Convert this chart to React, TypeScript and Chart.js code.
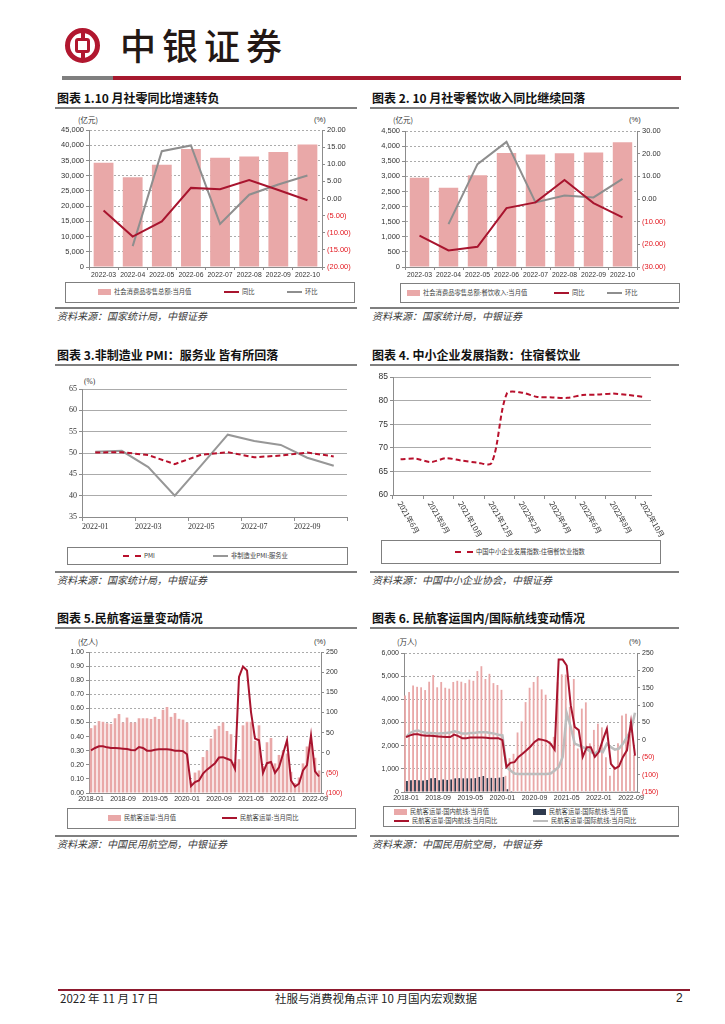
import React, { useEffect, useRef } from 'react';
import { Chart, registerables } from 'chart.js';

Chart.register(...registerables);

// ================= DATA =================
// Chart 1: retail sales
const c1Labels = ['2022-03', '2022-04', '2022-05', '2022-06', '2022-07', '2022-08', '2022-09', '2022-10'];
const c1Retail = [34233, 29483, 33547, 38742, 35870, 36258, 37745, 40271];
const c1Yoy = [-3.5, -11.1, -6.7, 3.1, 2.7, 5.4, 2.5, -0.5];
const c1Mom = [null, -13.9, 13.8, 15.5, -7.4, 1.1, 4.1, 6.7];

// Chart 2: catering revenue
const c2Labels = ['2022-03', '2022-04', '2022-05', '2022-06', '2022-07', '2022-08', '2022-09', '2022-10'];
const c2Catering = [2950, 2620, 3035, 3775, 3720, 3760, 3785, 4125];
const c2Yoy = [-16.2, -22.7, -21.1, -4.0, -1.5, 8.4, -1.8, -8.1];
const c2Mom = [null, -11.1, 15.4, 25.2, -1.5, 1.5, 0.7, 8.9];

// Chart 3: PMI
const c3Labels = ['2022-01', '2022-02', '2022-03', '2022-04', '2022-05', '2022-06', '2022-07', '2022-08', '2022-09', '2022-10'];
const c3Pmi = [50.1, 50.2, 49.5, 47.4, 49.6, 50.2, 49.0, 49.4, 50.1, 49.2];
const c3Services = [50.3, 50.5, 46.7, 40.0, 47.1, 54.3, 52.8, 51.9, 48.9, 47.0];

// Chart 4: SME development index, hospitality & catering
const c4Labels = ['2021年6月', '2021年7月', '2021年8月', '2021年9月', '2021年10月', '2021年11月', '2021年12月',
  '2022年1月', '2022年2月', '2022年3月', '2022年4月', '2022年5月', '2022年6月', '2022年7月', '2022年8月', '2022年9月', '2022年10月'];
const c4Index = [67.6, 67.7, 67.0, 67.8, 67.3, 66.9, 66.8, 81.5, 81.7, 80.8, 80.7, 80.6, 81.2, 81.3, 81.5, 81.2, 80.8];

// Chart 5 & 6: civil aviation (monthly)
const aviationMonths = [
  '2018-01', '2018-02', '2018-03', '2018-04', '2018-05', '2018-06', '2018-07', '2018-08', '2018-09', '2018-10', '2018-11', '2018-12',
  '2019-01', '2019-02', '2019-03', '2019-04', '2019-05', '2019-06', '2019-07', '2019-08', '2019-09', '2019-10', '2019-11', '2019-12',
  '2020-01', '2020-02', '2020-03', '2020-04', '2020-05', '2020-06', '2020-07', '2020-08', '2020-09', '2020-10', '2020-11', '2020-12',
  '2021-01', '2021-02', '2021-03', '2021-04', '2021-05', '2021-06', '2021-07', '2021-08', '2021-09', '2021-10', '2021-11', '2021-12',
  '2022-01', '2022-02', '2022-03', '2022-04', '2022-05', '2022-06', '2022-07', '2022-08', '2022-09', '2022-10',
];
const c5Passengers = [
  0.46, 0.48, 0.51, 0.505, 0.495, 0.49, 0.53, 0.56, 0.50, 0.535, 0.50, 0.50,
  0.53, 0.53, 0.53, 0.525, 0.54, 0.525, 0.59, 0.61, 0.54, 0.567, 0.526, 0.52,
  0.50, 0.08, 0.145, 0.16, 0.255, 0.30, 0.386, 0.452, 0.476, 0.50, 0.44, 0.417,
  0.22, 0.24, 0.48, 0.505, 0.505, 0.37, 0.48, 0.19, 0.36, 0.39, 0.21, 0.27,
  0.30, 0.28, 0.15, 0.07, 0.11, 0.21, 0.33, 0.34, 0.25, 0.16,
];
const c5Yoy = [
  5.9, 11.7, 15.8, 15.8, 13.3, 11.7, 11.7, 10.8, 10, 9, 6.7, 6,
  14, 11.7, 5, 5, 7.5, 8.4, 8.4, 8.4, 7.5, 5, 5, 4,
  -4, -83, -73, -69, -52, -42, -34, -26, -12, -11, -15, -19,
  -40, 188, 214, 204, 101, 35, 31, -50, -26, -23, -50, -36,
  -3, 31, -69, -84, -77, -44, -31, 43, -46, -59,
];
const c6Domestic = [
  4170, 4320, 4600, 4540, 4520, 4400, 4760, 5050, 4520, 4750, 4500, 4460,
  4750, 4800, 4760, 4700, 4850, 4800, 5220, 5430, 4880, 5100, 4700, 4620,
  4410, 700, 1460, 1650, 2570, 3050, 3880, 4500, 4750, 4980, 4430, 4200,
  2200, 2380, 4740, 5080, 5070, 3680, 4880, 1880, 3600, 3870, 2100, 2680,
  2950, 2790, 1500, 700, 1120, 2100, 3300, 3380, 2500, 1600,
];
const c6International = [
  480, 510, 520, 510, 500, 520, 590, 600, 510, 540, 520, 540,
  590, 600, 590, 590, 590, 600, 650, 690, 600, 610, 600, 620,
  650, 120, 40, 15, 15, 15, 15, 15, 15, 15, 15, 15,
  15, 15, 15, 15, 15, 15, 15, 15, 15, 15, 15, 15,
  15, 15, 15, 15, 15, 15, 15, 15, 15, 15,
];
const c6DomesticYoy = [
  8, 13, 16, 16, 13, 12, 12, 11, 10, 9, 8, 8,
  15, 11, 5, 5, 7, 7, 7, 7, 6, 5, 5, 5,
  -1, -78, -66, -64, -49, -40, -30, -19, -6, 2, 0, -3,
  -11, -28, 231, 231, 214, 100, 37, 28, -49, -21, -21, -49,
  -35, 0, 32, -69, -83, -76, -49, -30, 51, -45,
];
const c6InternationalYoy = [
  8, 20, 25, 27, 23, 20, 20, 19, 18, 19, 20, 21,
  25, 22, 18, 18, 20, 20, 22, 22, 22, 20, 18, 15,
  13, -78, -88, -97, -98, -98, -98, -98, -98, -98, -98, -98,
  -97, -88, -78, -49, 77, 37, -11, -16, -21, -26, -35, -40,
  -30, -35, -11, -21, -28, -25, -11, 8, 27, 78,
];

// ================= STYLE =================
const SANS = "'Liberation Sans', Arial, sans-serif";
const SERIF = "'Liberation Serif', 'Times New Roman', serif";
const CJK = "'Noto Sans CJK SC', 'Noto Sans', sans-serif";

const PINK = '#E9A8A8';
const RED = '#A8142E';
const RED2 = '#B8102C';
const GRAY = '#8E8E8E';
const LGRAY = '#BDBDBD';
const NAVY = '#2E3A4E';
const AXIS = '#8C8C8C';
const GRIDC = '#ABABAB';
const TXT = '#333333';
const NEG = '#E3161E';
const TRANSP = 'rgba(0,0,0,0)';

const negColor = (c: any) => (c.tick && c.tick.value < 0 ? NEG : TXT);
const pct2 = (v: any) => (v < 0 ? `(${(-v).toFixed(2)})` : Number(v).toFixed(2));
const pct0 = (v: any) => (v < 0 ? `(${-v})` : `${v}`);
const thousands = (v: any) => Number(v).toLocaleString('en-US');

function baseOptions(pad: any) {
  return {
    responsive: false,
    animation: false,
    events: [],
    layout: { padding: pad },
    plugins: { legend: { display: false }, tooltip: { enabled: false } },
  };
}

function yAxis(opts: any) {
  const { position, min, max, step, fmt, width, font, color, grid, dash, tick } = opts;
  return {
    position,
    min,
    max,
    ticks: { stepSize: step, callback: fmt, font, color: color || TXT, padding: 2 },
    grid: grid
      ? { display: true, color: GRIDC, tickColor: AXIS, tickLength: tick ?? 3, drawOnChartArea: true }
      : { display: true, drawOnChartArea: false, color: AXIS, tickLength: tick ?? 3 },
    border: { display: true, color: AXIS, width: 1, dash: dash || [] },
    afterFit: (s: any) => { s.width = width; },
  };
}

// ================= CONFIGS =================
function cfg1() {
  const yfont = { family: SANS, size: 7.5 };
  const xfont = { family: SANS, size: 6.8 };
  return {
    type: 'bar',
    data: {
      labels: c1Labels,
      datasets: [
        { type: 'line', data: c1Yoy, yAxisID: 'y1', borderColor: RED, borderWidth: 2, pointRadius: 0, order: 1 },
        { type: 'line', data: c1Mom, yAxisID: 'y1', borderColor: GRAY, borderWidth: 2, pointRadius: 0, order: 1 },
        { type: 'bar', data: c1Retail, yAxisID: 'y', backgroundColor: PINK, barPercentage: 0.68, categoryPercentage: 1, order: 2 },
      ],
    },
    options: {
      ...baseOptions({ top: 18, left: 0, right: 0, bottom: 0 }),
      scales: {
        x: {
          offset: true,
          grid: { display: true, drawOnChartArea: false, offset: true, tickLength: 3, color: AXIS },
          border: { color: AXIS },
          ticks: { autoSkip: false, maxRotation: 0, minRotation: 0, padding: 1, font: xfont, color: TXT },
          afterFit: (s: any) => { s.height = 15; },
        },
        y: yAxis({ position: 'left', min: 0, max: 45000, step: 5000, fmt: thousands, width: 34, font: yfont, grid: true, dash: [2, 2] }),
        y1: yAxis({ position: 'right', min: -20, max: 20, step: 5, fmt: pct2, width: 38, font: yfont, color: negColor }),
      },
    },
  };
}

function cfg2() {
  const yfont = { family: SANS, size: 7.5 };
  const xfont = { family: SANS, size: 6.8 };
  return {
    type: 'bar',
    data: {
      labels: c2Labels,
      datasets: [
        { type: 'line', data: c2Yoy, yAxisID: 'y1', borderColor: RED, borderWidth: 2, pointRadius: 0, order: 1 },
        { type: 'line', data: c2Mom, yAxisID: 'y1', borderColor: GRAY, borderWidth: 2, pointRadius: 0, order: 1 },
        { type: 'bar', data: c2Catering, yAxisID: 'y', backgroundColor: PINK, barPercentage: 0.67, categoryPercentage: 1, order: 2 },
      ],
    },
    options: {
      ...baseOptions({ top: 19, left: 0, right: 0, bottom: 0 }),
      scales: {
        x: {
          offset: true,
          grid: { display: true, drawOnChartArea: false, offset: true, tickLength: 3, color: AXIS },
          border: { color: AXIS },
          ticks: { autoSkip: false, maxRotation: 0, minRotation: 0, padding: 1, font: xfont, color: TXT },
          afterFit: (s: any) => { s.height = 15; },
        },
        y: yAxis({ position: 'left', min: 0, max: 4500, step: 500, fmt: thousands, width: 35, font: yfont, grid: true, dash: [2, 2] }),
        y1: yAxis({ position: 'right', min: -30, max: 30, step: 10, fmt: pct2, width: 45, font: yfont, color: negColor }),
      },
    },
  };
}

function cfg3() {
  const font = { family: SERIF, size: 8 };
  return {
    type: 'line',
    data: {
      labels: c3Labels,
      datasets: [
        { data: c3Pmi, borderColor: RED2, borderWidth: 2, borderDash: [5, 3], pointRadius: 0 },
        { data: c3Services, borderColor: '#979797', borderWidth: 2, pointRadius: 0 },
      ],
    },
    options: {
      ...baseOptions({ top: 11, left: 0, right: 8, bottom: 0 }),
      scales: {
        x: {
          offset: true,
          grid: {
            display: true, drawOnChartArea: false, offset: true, tickLength: 4,
            color: (c: any) => (c.index === undefined || c.index % 2 === 0 ? AXIS : TRANSP),
          },
          border: { color: AXIS },
          ticks: {
            autoSkip: false, maxRotation: 0, minRotation: 0, padding: 1, font, color: TXT,
            callback: (_v: any, i: number) => (i % 2 === 0 ? c3Labels[i] : ''),
          },
          afterFit: (s: any) => { s.height = 14; },
        },
        y: yAxis({ position: 'left', min: 35, max: 65, step: 5, fmt: (v: any) => `${v}`, width: 27, font, grid: true, tick: 3 }),
      },
    },
  };
}

const rotatedLabels = {
  id: 'rotatedLabels',
  afterDraw(chart: any) {
    const sx = chart.scales.x;
    const ctx = chart.ctx;
    ctx.save();
    ctx.font = `7.5px ${CJK}`;
    ctx.fillStyle = TXT;
    ctx.textAlign = 'left';
    ctx.textBaseline = 'middle';
    c4Labels.forEach((lab, i) => {
      if (i % 2 !== 0) return;
      const x = sx.getPixelForValue(i);
      ctx.save();
      ctx.translate(x - 1, sx.top + 7);
      ctx.rotate((60 * Math.PI) / 180);
      ctx.fillText(lab, 0, 0);
      ctx.restore();
    });
    ctx.restore();
  },
};

function cfg4() {
  const font = { family: SANS, size: 8.5 };
  return {
    type: 'line',
    data: {
      labels: c4Labels,
      datasets: [
        { data: c4Index, borderColor: RED2, borderWidth: 2, borderDash: [5, 3], pointRadius: 0, tension: 0.3 },
      ],
    },
    options: {
      ...baseOptions({ top: 7, left: 0, right: 19, bottom: 0 }),
      scales: {
        x: {
          offset: true,
          grid: {
            display: true, drawOnChartArea: false, offset: true, tickLength: 4,
            color: (c: any) => (c.index !== undefined && c.index % 2 === 0 ? AXIS : TRANSP),
          },
          border: { color: AXIS },
          ticks: { display: false },
          afterFit: (s: any) => { s.height = 45; },
        },
        y: yAxis({ position: 'left', min: 60, max: 85, step: 5, fmt: (v: any) => `${v}`, width: 23, font, grid: true, tick: 3 }),
      },
    },
    plugins: [rotatedLabels],
  };
}

function cfg5() {
  const font = { family: SANS, size: 7 };
  return {
    type: 'bar',
    data: {
      labels: aviationMonths,
      datasets: [
        { type: 'line', data: c5Yoy, yAxisID: 'y1', borderColor: RED, borderWidth: 2, pointRadius: 0, order: 1 },
        { type: 'bar', data: c5Passengers, yAxisID: 'y', backgroundColor: PINK, barPercentage: 0.66, categoryPercentage: 1, order: 2 },
      ],
    },
    options: {
      ...baseOptions({ top: 7, left: 0, right: 0, bottom: 0 }),
      scales: {
        x: {
          offset: true,
          grid: { display: true, drawOnChartArea: false, drawTicks: false, color: AXIS },
          border: { color: AXIS },
          ticks: {
            autoSkip: false, maxRotation: 0, minRotation: 0, padding: 2, font, color: TXT,
            callback: (_v: any, i: number) => (i % 8 === 0 ? aviationMonths[i] : ''),
          },
          afterFit: (s: any) => { s.height = 14; },
        },
        y: yAxis({ position: 'left', min: 0, max: 1, step: 0.1, fmt: (v: any) => Number(v).toFixed(2), width: 34, font, grid: true, dash: [2, 2] }),
        y1: yAxis({ position: 'right', min: -100, max: 250, step: 50, fmt: pct0, width: 39, font, color: negColor }),
      },
    },
  };
}

function cfg6() {
  const font = { family: SANS, size: 7 };
  return {
    type: 'bar',
    data: {
      labels: aviationMonths,
      datasets: [
        { type: 'line', data: c6DomesticYoy, yAxisID: 'y1', borderColor: RED, borderWidth: 2, pointRadius: 0, order: 1 },
        { type: 'line', data: c6InternationalYoy, yAxisID: 'y1', borderColor: LGRAY, borderWidth: 2.5, pointRadius: 0, order: 1 },
        { type: 'bar', data: c6Domestic, yAxisID: 'y', backgroundColor: PINK, barPercentage: 0.95, categoryPercentage: 0.95, order: 2 },
        { type: 'bar', data: c6International, yAxisID: 'y', backgroundColor: NAVY, barPercentage: 0.95, categoryPercentage: 0.95, order: 2 },
      ],
    },
    options: {
      ...baseOptions({ top: 8, left: 0, right: 0, bottom: 0 }),
      scales: {
        x: {
          offset: true,
          grid: { display: true, drawOnChartArea: false, drawTicks: false, color: AXIS },
          border: { color: AXIS },
          ticks: {
            autoSkip: false, maxRotation: 0, minRotation: 0, padding: 2, font, color: TXT,
            callback: (_v: any, i: number) => (i % 8 === 0 ? aviationMonths[i] : ''),
          },
          afterFit: (s: any) => { s.height = 13; },
        },
        y: yAxis({ position: 'left', min: 0, max: 6000, step: 1000, fmt: thousands, width: 34, font, grid: true, dash: [2, 2] }),
        y1: yAxis({ position: 'right', min: -150, max: 250, step: 50, fmt: pct0, width: 45, font, color: negColor }),
      },
    },
  };
}

// ================= COMPONENTS =================
function ChartCanvas({ x, y, w, h, make }: any) {
  const ref = useRef<HTMLCanvasElement | null>(null);
  useEffect(() => {
    const chart = new Chart(ref.current as HTMLCanvasElement, make());
    return () => chart.destroy();
  }, []);
  return (
    <canvas
      ref={ref}
      width={w}
      height={h}
      style={{ position: 'absolute', left: x, top: y, width: w, height: h, display: 'block' }}
    />
  );
}

const abs = (x: number, y: number, extra: any = {}) => ({ position: 'absolute' as const, left: x, top: y, ...extra });

function Title({ x, y, text }: any) {
  return (
    <div style={abs(x, y, { fontFamily: CJK, fontWeight: 700, fontSize: 12, color: '#111', whiteSpace: 'nowrap', lineHeight: '14px' })}>
      {text}
    </div>
  );
}

function HLine({ x, y, w, h = 1.5, c = '#7F7F7F' }: any) {
  return <div style={abs(x, y, { width: w, height: h, background: c })} />;
}

function Source({ x, y, text }: any) {
  return (
    <div style={abs(x, y, { fontFamily: CJK, fontStyle: 'italic', fontSize: 10, color: '#3A3A3A', whiteSpace: 'nowrap', lineHeight: '12px' })}>
      {text}
    </div>
  );
}

function Unit({ x, y, text, family = CJK }: any) {
  return (
    <div style={abs(x, y, { fontFamily: family, fontSize: 7.5, color: '#333333', whiteSpace: 'nowrap', lineHeight: '9px' })}>
      {text}
    </div>
  );
}

function Box({ x, y, w, h }: any) {
  return <div style={abs(x, y, { width: w, height: h, border: '1px solid #7F7F7F', boxSizing: 'border-box', background: '#fff' })} />;
}

function LegItem({ x, y, kind, color, text }: any) {
  let marker: any;
  if (kind === 'bar') marker = <div style={abs(x, y - 3, { width: 13, height: 6, background: color })} />;
  else if (kind === 'dash') marker = <div style={abs(x, y - 1, { width: 18, height: 0, borderTop: `2px dashed ${color}` })} />;
  else marker = <div style={abs(x, y - 1, { width: 15, height: 2, background: color })} />;
  const tx = x + (kind === 'bar' ? 16 : kind === 'dash' ? 21 : 18);
  return (
    <>
      {marker}
      <div style={abs(tx, y - 4, { fontFamily: CJK, fontSize: 6.3, color: '#404040', whiteSpace: 'nowrap', lineHeight: '8px' })}>{text}</div>
    </>
  );
}

export default function App() {
  return (
    <div style={{ position: 'absolute', left: 0, top: 0, width: 725, height: 1024, background: '#fff', overflow: 'hidden' }}>
      {/* Header */}
      <div style={abs(65, 28, { width: 35, height: 35, borderRadius: '50%', border: '5px solid #B1172F', boxSizing: 'border-box' })} />
      <div style={abs(80.5, 29, { width: 4, height: 33, background: '#B1172F' })} />
      <div style={abs(75, 38, { width: 15, height: 15, border: '3.5px solid #B1172F', borderRadius: 3, background: '#fff', boxSizing: 'border-box' })} />
      <div style={abs(120, 23, { fontFamily: CJK, fontSize: 36, fontWeight: 500, letterSpacing: 6, color: '#231815', whiteSpace: 'nowrap', lineHeight: '42px' })}>中银证券</div>
      <HLine x={62} y={76} w={51} h={4} c="#7F7F7F" />
      <HLine x={113} y={76} w={568} h={4} c="#A6192E" />

      {/* Row 1 */}
      <Title x={57} y={91} text="图表 1.10 月社零同比增速转负" />
      <HLine x={55} y={107} w={302} />
      <Unit x={78} y={115} text="(亿元)" />
      <Unit x={314} y={115} text="(%)" family={SANS} />
      <ChartCanvas x={55} y={112} w={305} h={170} make={cfg1} />
      <Box x={65} y={282} w={290} h={21} />
      <LegItem x={98} y={292} kind="bar" color={PINK} text="社会消费品零售总额:当月值" />
      <LegItem x={224} y={292} kind="line" color={RED} text="同比" />
      <LegItem x={287} y={292} kind="line" color={GRAY} text="环比" />
      <HLine x={55} y={307} w={302} />
      <Source x={57} y={310} text="资料来源：国家统计局，中银证券" />

      <Title x={372} y={91} text="图表 2. 10 月社零餐饮收入同比继续回落" />
      <HLine x={370} y={107} w={309} />
      <Unit x={393} y={115} text="(亿元)" />
      <Unit x={629} y={115} text="(%)" family={SANS} />
      <ChartCanvas x={370} y={112} w={312} h={170} make={cfg2} />
      <Box x={400} y={283} w={280} h={20} />
      <LegItem x={407} y={293} kind="bar" color={PINK} text="社会消费品零售总额:餐饮收入:当月值" />
      <LegItem x={554} y={293} kind="line" color={RED} text="同比" />
      <LegItem x={607} y={293} kind="line" color={GRAY} text="环比" />
      <HLine x={370} y={307} w={309} />
      <Source x={372} y={310} text="资料来源：国家统计局，中银证券" />

      {/* Row 2 */}
      <Title x={57} y={348} text="图表 3.非制造业 PMI：服务业 皆有所回落" />
      <HLine x={55} y={364} w={302} />
      <Unit x={84} y={377} text="(%)" family={SERIF} />
      <ChartCanvas x={55} y={378} w={300} h={153} make={cfg3} />
      <Box x={67} y={547} w={281} h={18} />
      <LegItem x={123} y={556} kind="dash" color={RED2} text="PMI" />
      <LegItem x={213} y={556} kind="line" color="#979797" text="非制造业PMI:服务业" />
      <HLine x={55} y={571} w={302} />
      <Source x={57} y={574} text="资料来源：国家统计局，中银证券" />

      <Title x={372} y={348} text="图表 4. 中小企业发展指数：住宿餐饮业" />
      <HLine x={370} y={364} w={309} />
      <ChartCanvas x={370} y={370} w={300} h={170} make={cfg4} />
      <Box x={381} y={540} w={280} h={24} />
      <LegItem x={455} y={552} kind="dash" color={RED2} text="中国中小企业发展指数:住宿餐饮业指数" />
      <HLine x={370} y={571} w={309} />
      <Source x={372} y={574} text="资料来源：中国中小企业协会，中银证券" />

      {/* Row 3 */}
      <Title x={57} y={611} text="图表 5.民航客运量变动情况" />
      <HLine x={55} y={627} w={302} />
      <Unit x={78} y={637} text="(亿人)" />
      <Unit x={314} y={637} text="(%)" family={SANS} />
      <ChartCanvas x={55} y={645} w={305} h={162} make={cfg5} />
      <Box x={67} y={808} w={289} h={21} />
      <LegItem x={108} y={818} kind="bar" color={PINK} text="民航客运量:当月值" />
      <LegItem x={222} y={818} kind="line" color={RED} text="民航客运量:当月同比" />
      <HLine x={55} y={835} w={302} />
      <Source x={57} y={838} text="资料来源：中国民用航空局，中银证券" />

      <Title x={372} y={611} text="图表 6. 民航客运国内/国际航线变动情况" />
      <HLine x={370} y={627} w={309} />
      <Unit x={397} y={637} text="(万人)" />
      <Unit x={629} y={637} text="(%)" family={SANS} />
      <ChartCanvas x={370} y={645} w={312} h={160} make={cfg6} />
      <Box x={383} y={806} w={296} h={21} />
      <LegItem x={394} y={812} kind="bar" color={PINK} text="民航客运量:国内航线:当月值" />
      <LegItem x={533} y={812} kind="bar" color={NAVY} text="民航客运量:国际航线:当月值" />
      <LegItem x={394} y={821} kind="line" color={RED} text="民航客运量:国内航线:当月同比" />
      <LegItem x={533} y={821} kind="line" color={LGRAY} text="民航客运量:国际航线:当月同比" />
      <HLine x={370} y={835} w={309} />
      <Source x={372} y={838} text="资料来源：中国民用航空局，中银证券" />

      {/* Footer */}
      <HLine x={58} y={989} w={632} h={1.5} c="#8E1A2E" />
      <div style={abs(60, 991, { fontFamily: CJK, fontSize: 11.5, color: '#222', whiteSpace: 'nowrap', lineHeight: '14px' })}>2022 年 11 月 17 日</div>
      <div style={abs(275, 991, { fontFamily: CJK, fontSize: 11.5, color: '#222', whiteSpace: 'nowrap', lineHeight: '14px' })}>社服与消费视角点评 10 月国内宏观数据</div>
      <div style={abs(676, 991, { fontFamily: SANS, fontSize: 12, color: '#222', whiteSpace: 'nowrap', lineHeight: '14px' })}>2</div>
    </div>
  );
}
